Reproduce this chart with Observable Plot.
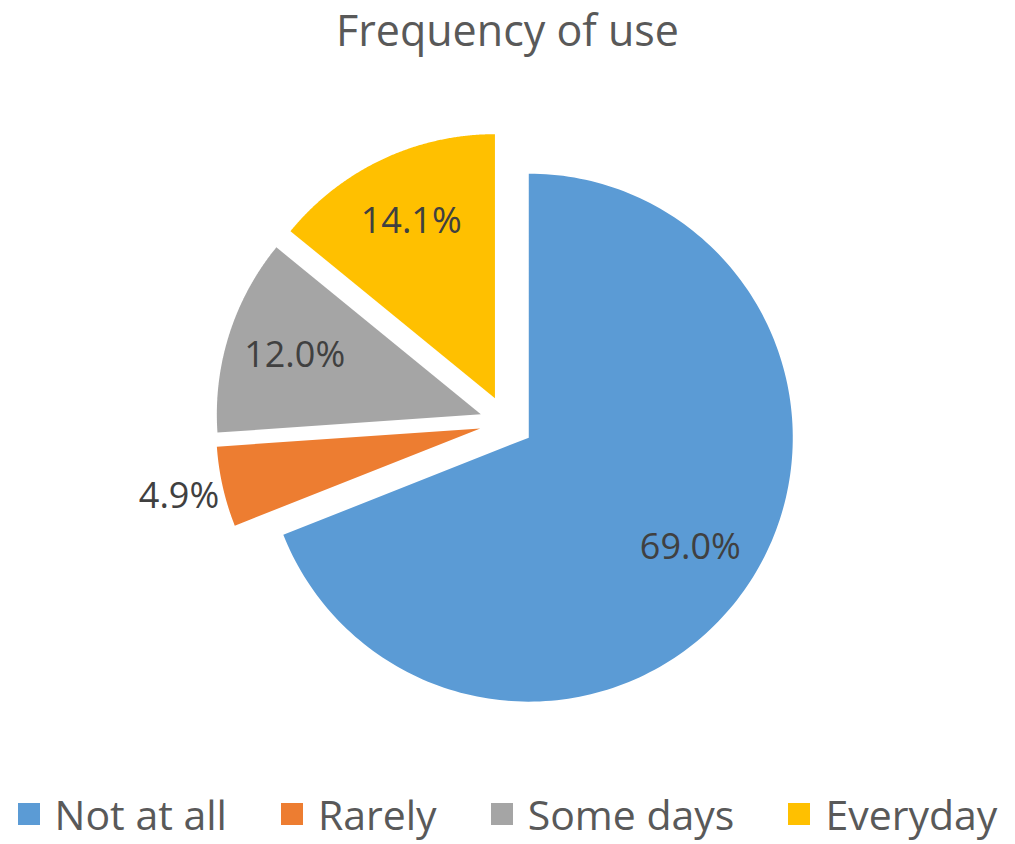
<!DOCTYPE html>
<html><head><meta charset="utf-8">
<script src="https://cdn.jsdelivr.net/npm/d3@7"></script>
<script src="https://cdn.jsdelivr.net/npm/@observablehq/plot@0.6"></script>
<style>
body{margin:0;background:#fff;font-family:"Open Sans",sans-serif;}
#wrap{position:relative;width:1015px;height:844px;overflow:hidden;background:#fff}
#title{position:absolute;left:0;top:0;width:1015px;text-align:center;font-size:43px;color:#595959;line-height:60px}
#chart{position:absolute;left:0;top:70px}
#legend{position:absolute;left:0;top:788px;width:1015px;display:flex;justify-content:center;gap:54px;font-size:41px;color:#595959;line-height:52px}
.item{display:flex;align-items:center;gap:15px}
.sw{width:22px;height:22px}
</style></head><body>
<div id="wrap"><div id="title"></div><div id="chart"></div><div id="legend"></div></div>
<script>
const title = "Frequency of use";
const categories = ["Not at all", "Rarely", "Some days", "Everyday"];
const shares = [69.0, 4.9, 12.0, 14.1];
const labels = ["69.0%", "4.9%", "12.0%", "14.1%"];
const colors = ["#5B9BD5", "#ED7D31", "#A5A5A5", "#FFC000"];

const explode = 0.102;
const arcs = d3.pie().sort(null).value(d => d)(shares);
const slicePts = [];
const labelPts = [];
arcs.forEach((a, i) => {
  const mid = (a.startAngle + a.endAngle) / 2;
  const cx = explode * Math.sin(mid), cy = explode * Math.cos(mid);
  slicePts.push({x: cx, y: cy, cat: categories[i]});
  const N = 200;
  for (let k = 0; k <= N; k++) {
    const t = a.startAngle + (a.endAngle - a.startAngle) * k / N;
    slicePts.push({x: cx + Math.sin(t), y: cy + Math.cos(t), cat: categories[i]});
  }
  slicePts.push({x: cx, y: cy, cat: categories[i]});
  const rr = shares[i] < 6 ? 1.17 : 0.74;
  labelPts.push({x: cx + rr * Math.sin(mid), y: cy + rr * Math.cos(mid), text: labels[i]});
});

const R = 264, CX = 506, CY = 352;
const chart = Plot.plot({
  width: 1015, height: 716,
  margin: 0,
  x: {domain: [-1, 1], range: [CX - R, CX + R], axis: null},
  y: {domain: [-1, 1], range: [CY + R, CY - R], axis: null},
  color: {domain: categories, range: colors},
  style: {fontFamily: "Open Sans", background: "white"},
  marks: [
    Plot.line(slicePts, {x: "x", y: "y", z: "cat", fill: "cat", stroke: "none"}),
    Plot.text(labelPts, {x: "x", y: "y", text: "text", fontSize: 36, fill: "#404040", fontFamily: "Open Sans"})
  ]
});
document.getElementById("chart").appendChild(chart);
document.getElementById("title").textContent = title;
const leg = document.getElementById("legend");
categories.forEach((c, i) => {
  const it = document.createElement("div"); it.className = "item";
  const sw = document.createElement("div"); sw.className = "sw"; sw.style.background = colors[i];
  const tx = document.createElement("span"); tx.textContent = c;
  it.appendChild(sw); it.appendChild(tx); leg.appendChild(it);
});
</script>
</body></html>
